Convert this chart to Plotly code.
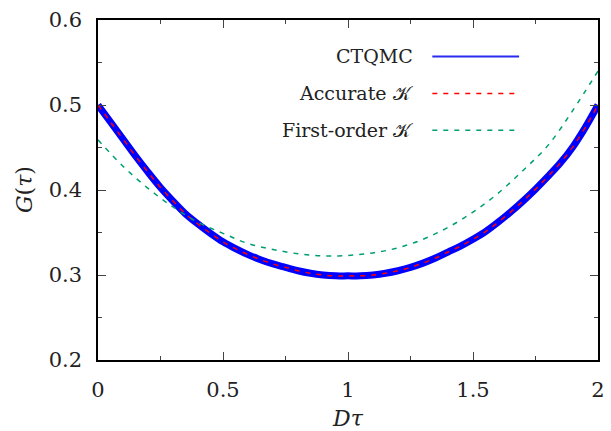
import plotly.graph_objects as go

# ---- data ----
tau = [0.00, 0.05, 0.10, 0.15, 0.20, 0.25, 0.30, 0.35, 0.40, 0.45, 0.50,
       0.55, 0.60, 0.65, 0.70, 0.75, 0.80, 0.85, 0.90, 0.95, 1.00,
       1.05, 1.10, 1.15, 1.20, 1.25, 1.30, 1.35, 1.40, 1.45, 1.50,
       1.55, 1.60, 1.65, 1.70, 1.75, 1.80, 1.85, 1.90, 1.95, 2.00]

ctqmc = [0.500, 0.480, 0.460, 0.440, 0.421, 0.403, 0.387, 0.372, 0.360, 0.349, 0.339,
         0.331, 0.324, 0.318, 0.313, 0.309, 0.305, 0.302, 0.300, 0.299, 0.299,
         0.299, 0.300, 0.302, 0.305, 0.309, 0.314, 0.320, 0.327, 0.334, 0.342,
         0.351, 0.362, 0.374, 0.387, 0.401, 0.416, 0.432, 0.451, 0.474, 0.500]

accurate = [0.500, 0.480, 0.460, 0.440, 0.421, 0.403, 0.387, 0.372, 0.360, 0.349, 0.339,
            0.331, 0.324, 0.318, 0.313, 0.309, 0.305, 0.302, 0.300, 0.299, 0.299,
            0.299, 0.300, 0.302, 0.305, 0.309, 0.314, 0.320, 0.327, 0.334, 0.342,
            0.351, 0.362, 0.374, 0.387, 0.401, 0.416, 0.432, 0.451, 0.474, 0.500]

tau_fo = [0.0, 0.1, 0.2, 0.3, 0.4, 0.5, 0.6, 0.7, 0.8, 0.9, 1.0,
          1.1, 1.2, 1.3, 1.4, 1.5, 1.6, 1.7, 1.8, 1.9, 2.0]
first_order = [0.459, 0.428, 0.402, 0.380, 0.362, 0.349, 0.337, 0.330, 0.325, 0.3225, 0.323,
               0.326, 0.332, 0.342, 0.356, 0.374, 0.396, 0.423, 0.4525, 0.494, 0.540]

series_names = ["CTQMC", "Accurate 𝒦", "First-order 𝒦"]
x_ticks = [0, 0.5, 1, 1.5, 2]
x_tick_text = ["0", "0.5", "1", "1.5", "2"]
y_ticks = [0.2, 0.3, 0.4, 0.5, 0.6]
y_tick_text = ["0.2", "0.3", "0.4", "0.5", "0.6"]

BLUE = "#0000ff"
RED = "#ff0000"
GREEN = "#009e73"
FONT = "DejaVu Serif"

fig = go.Figure()
fig.add_trace(go.Scatter(x=tau, y=ctqmc, mode="lines", line_shape="spline",
                         line=dict(color=BLUE, width=7), name=series_names[0]))
fig.add_trace(go.Scatter(x=tau, y=accurate, mode="lines", line_shape="spline",
                         line=dict(color=RED, width=1.5, dash="5px,6px"), name=series_names[1]))
fig.add_trace(go.Scatter(x=tau_fo, y=first_order, mode="lines", line_shape="spline",
                         line=dict(color=GREEN, width=1.5, dash="5px,6px"), name=series_names[2]))

axis_common = dict(showgrid=False, zeroline=False, showline=True, linecolor="black",
                   linewidth=1.5, ticks="inside", ticklen=8, tickwidth=1, tickcolor="#444",
                   mirror="ticks", tickfont=dict(family=FONT, size=21, color="#222"))

fig.update_xaxes(range=[0, 2], tickvals=x_ticks, ticktext=x_tick_text,
                 ticklabelstandoff=10,
                 minor=dict(ticks="inside", ticklen=4, dtick=0.25, tickcolor="#444", tickwidth=1),
                 **axis_common)
fig.update_yaxes(range=[0.2, 0.6], tickvals=y_ticks, ticktext=y_tick_text,
                 ticklabelstandoff=10,
                 minor=dict(ticks="inside", ticklen=4, dtick=0.05, tickcolor="#444", tickwidth=1),
                 **axis_common)

annotations = [
    dict(text="<i>G</i>(<i>τ</i>)", xref="paper", yref="paper", x=0, y=0.5,
         xshift=-74, textangle=-90, showarrow=False,
         font=dict(family=FONT, size=22, color="#222"), xanchor="center", yanchor="middle"),
    dict(text="<i>Dτ</i>", xref="paper", yref="paper", x=0.5, y=0,
         yshift=-58, showarrow=False,
         font=dict(family=FONT, size=22, color="#222"), xanchor="center", yanchor="middle"),
]

# legend (text right-aligned, sample line to the right)
leg_y = [0.8928, 0.7841, 0.6755]
leg_styles = [dict(color="#2a2af0", width=2), dict(color=RED, width=1.5, dash="5px,6px"),
              dict(color=GREEN, width=1.5, dash="5px,6px")]
shapes = []
for name, yy, st in zip(series_names, leg_y, leg_styles):
    annotations.append(dict(text=name, xref="paper", yref="paper", x=0.633, y=yy,
                            showarrow=False, xanchor="right", yanchor="middle",
                            font=dict(family=FONT, size=19, color="#222")))
    shapes.append(dict(type="line", xref="paper", yref="paper", x0=0.6686, x1=0.8422,
                       y0=yy, y1=yy, line=st))

fig.update_layout(width=611, height=431, margin=dict(l=98, r=6, t=20, b=71),
                  paper_bgcolor="white", plot_bgcolor="white", showlegend=False,
                  font=dict(family=FONT),
                  annotations=annotations, shapes=shapes)

fig.write_html("out.html")
